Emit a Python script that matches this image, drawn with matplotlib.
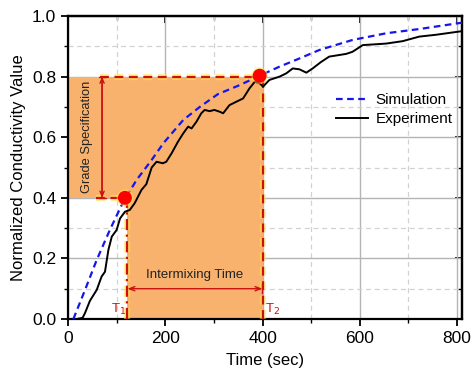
import matplotlib
matplotlib.use("Agg")
import matplotlib.pyplot as plt
from matplotlib.ticker import MultipleLocator
import matplotlib.patheffects as pe

plt.rcParams['font.family'] = ['Liberation Sans', 'DejaVu Sans']

# Data
sim_t = [11, 35, 59, 86, 113, 141, 172, 196, 237, 271, 308, 353, 394, 435, 476, 517, 585, 654, 722, 810]
sim_v = [0.0, 0.096, 0.195, 0.294, 0.385, 0.459, 0.525, 0.58, 0.657, 0.70, 0.742, 0.772, 0.803, 0.833,
         0.86, 0.888, 0.921, 0.943, 0.957, 0.978]

exp_t = [18, 30, 35, 45, 59, 69, 76, 83, 90, 100, 107, 117, 127, 137, 151, 161, 172, 182, 195, 202,
         213, 226, 237, 247, 254, 264, 274, 281, 291, 301, 312, 319, 332, 346, 360, 373, 384, 394,
         401, 414, 435, 449, 462, 476, 490, 503, 520, 537, 572, 585, 606, 654, 688, 722, 756, 810]
exp_v = [0.0, 0.004, 0.02, 0.06, 0.096, 0.14, 0.156, 0.228, 0.272, 0.294, 0.332, 0.354, 0.36, 0.382,
         0.426, 0.445, 0.50, 0.519, 0.514, 0.519, 0.547, 0.585, 0.613, 0.635, 0.629, 0.651, 0.679,
         0.690, 0.686, 0.690, 0.684, 0.679, 0.706, 0.717, 0.728, 0.761, 0.783, 0.778, 0.767, 0.789,
         0.800, 0.811, 0.827, 0.824, 0.813, 0.827, 0.848, 0.866, 0.875, 0.882, 0.904, 0.909, 0.917,
         0.932, 0.938, 0.950]

t1, t2 = 122, 400
grade_low, grade_high = 0.4, 0.8
points_t = [117, 394]
points_v = [0.40, 0.803]

fig = plt.figure(figsize=(4.73, 3.75), dpi=100)
ax = fig.add_axes([0.1438, 0.1493, 0.8329, 0.808])

ax.set_xlim(0, 810)
ax.set_ylim(0, 1.0)
ax.xaxis.set_major_locator(MultipleLocator(200))
ax.xaxis.set_minor_locator(MultipleLocator(100))
ax.yaxis.set_major_locator(MultipleLocator(0.2))
ax.yaxis.set_minor_locator(MultipleLocator(0.1))
ax.set_axisbelow(True)
ax.grid(which='major', color='#b4b4b4', lw=1.0, ls='-')
ax.grid(which='minor', color='#d2d2d2', lw=0.9, ls=(0, (4, 3)))

# Orange region
ax.fill([0, 0, t2, t2, t1, t1], [grade_low, grade_high, grade_high, 0, 0, grade_low],
        color='#F9B26E', lw=0, zorder=1)

glow = [pe.Stroke(linewidth=4.5, foreground='#FFE94A', alpha=0.55), pe.Normal()]
red = '#CC1111'
ax.plot([65, t2], [grade_high, grade_high], color=red, lw=1.6, ls=(0, (4, 2.5)), zorder=3,
        path_effects=glow)
ax.plot([58, points_t[0]], [grade_low, grade_low], color=red, lw=1.6, ls=(0, (4, 2.5)), zorder=3,
        path_effects=glow)
ax.plot([t2, t2], [0, grade_high], color=red, lw=1.6, ls=(0, (4, 2.5)), zorder=3,
        path_effects=glow)
ax.plot([t1, t1], [0, grade_low], color=red, lw=1.6, ls=(0, (5, 2, 1, 2)), zorder=3,
        path_effects=glow)

# Curves
ax.plot(sim_t, sim_v, color='#1515EE', lw=1.6, ls=(0, (3, 2)), label='Simulation', zorder=4)
ax.plot(exp_t, exp_v, color='black', lw=1.4, label='Experiment', zorder=4)

ax.plot(points_t, points_v, 'o', color='#FF0000', ms=9, zorder=6,
        path_effects=[pe.Stroke(linewidth=3, foreground='#FFE94A', alpha=0.5), pe.Normal()])

# Arrows
ax.annotate('', xy=(70, grade_high), xytext=(70, grade_low),
            arrowprops=dict(arrowstyle='|-|,widthA=0.25,widthB=0.25', color=red, lw=1.0,
                            shrinkA=0, shrinkB=0), zorder=5)
ax.annotate('', xy=(70, grade_high), xytext=(70, grade_low),
            arrowprops=dict(arrowstyle='<->,head_length=0.35,head_width=0.15', color=red, lw=1.0,
                            shrinkA=0, shrinkB=0), zorder=5)
ax.annotate('', xy=(t2, 0.1), xytext=(t1, 0.1),
            arrowprops=dict(arrowstyle='<->,head_length=0.4,head_width=0.15', color=red, lw=1.0,
                            shrinkA=0, shrinkB=0), zorder=5)
ax.plot([t2 - 2, t2 - 2], [0.085, 0.115], color=red, lw=1.0, zorder=5)

ax.text(39, 0.6, 'Grade Specification', rotation=90, ha='center', va='center', fontsize=9.3,
        color='#222222', zorder=6)
ax.text(261, 0.145, 'Intermixing Time', ha='center', va='center', fontsize=9.5,
        color='#222222', zorder=6)
ax.text(103, 0.03, r'T$_1$', ha='center', va='center', fontsize=9.5, color=red, zorder=6)
ax.text(420, 0.03, r'T$_2$', ha='center', va='center', fontsize=9.5, color=red, zorder=6)

leg = ax.legend(loc='upper left', bbox_to_anchor=(0.645, 0.79), frameon=False, fontsize=11,
                handlelength=2.1, labelspacing=0.3, handletextpad=0.5)

ax.set_xlabel('Time (sec)', fontsize=12, labelpad=5)
ax.set_ylabel('Normalized Conductivity Value', fontsize=12, labelpad=4)

for s in ax.spines.values():
    s.set_linewidth(1.6)
ax.tick_params(which='major', direction='out', length=5, width=1.3, labelsize=12.5)
ax.tick_params(which='minor', direction='out', length=3, width=1.0)

top = ax.secondary_xaxis('top')
top.xaxis.set_major_locator(MultipleLocator(200))
top.xaxis.set_minor_locator(MultipleLocator(100))
top.tick_params(which='major', direction='in', length=5, width=1.3, labeltop=False)
top.tick_params(which='minor', direction='in', length=3, width=1.0)
right = ax.secondary_yaxis('right')
right.yaxis.set_major_locator(MultipleLocator(0.2))
right.yaxis.set_minor_locator(MultipleLocator(0.1))
right.tick_params(which='major', direction='in', length=5, width=1.3, labelright=False)
right.tick_params(which='minor', direction='in', length=3, width=1.0)
for sec in (top, right):
    for s in sec.spines.values():
        s.set_linewidth(1.6)

fig.savefig('out.png', dpi=100)
